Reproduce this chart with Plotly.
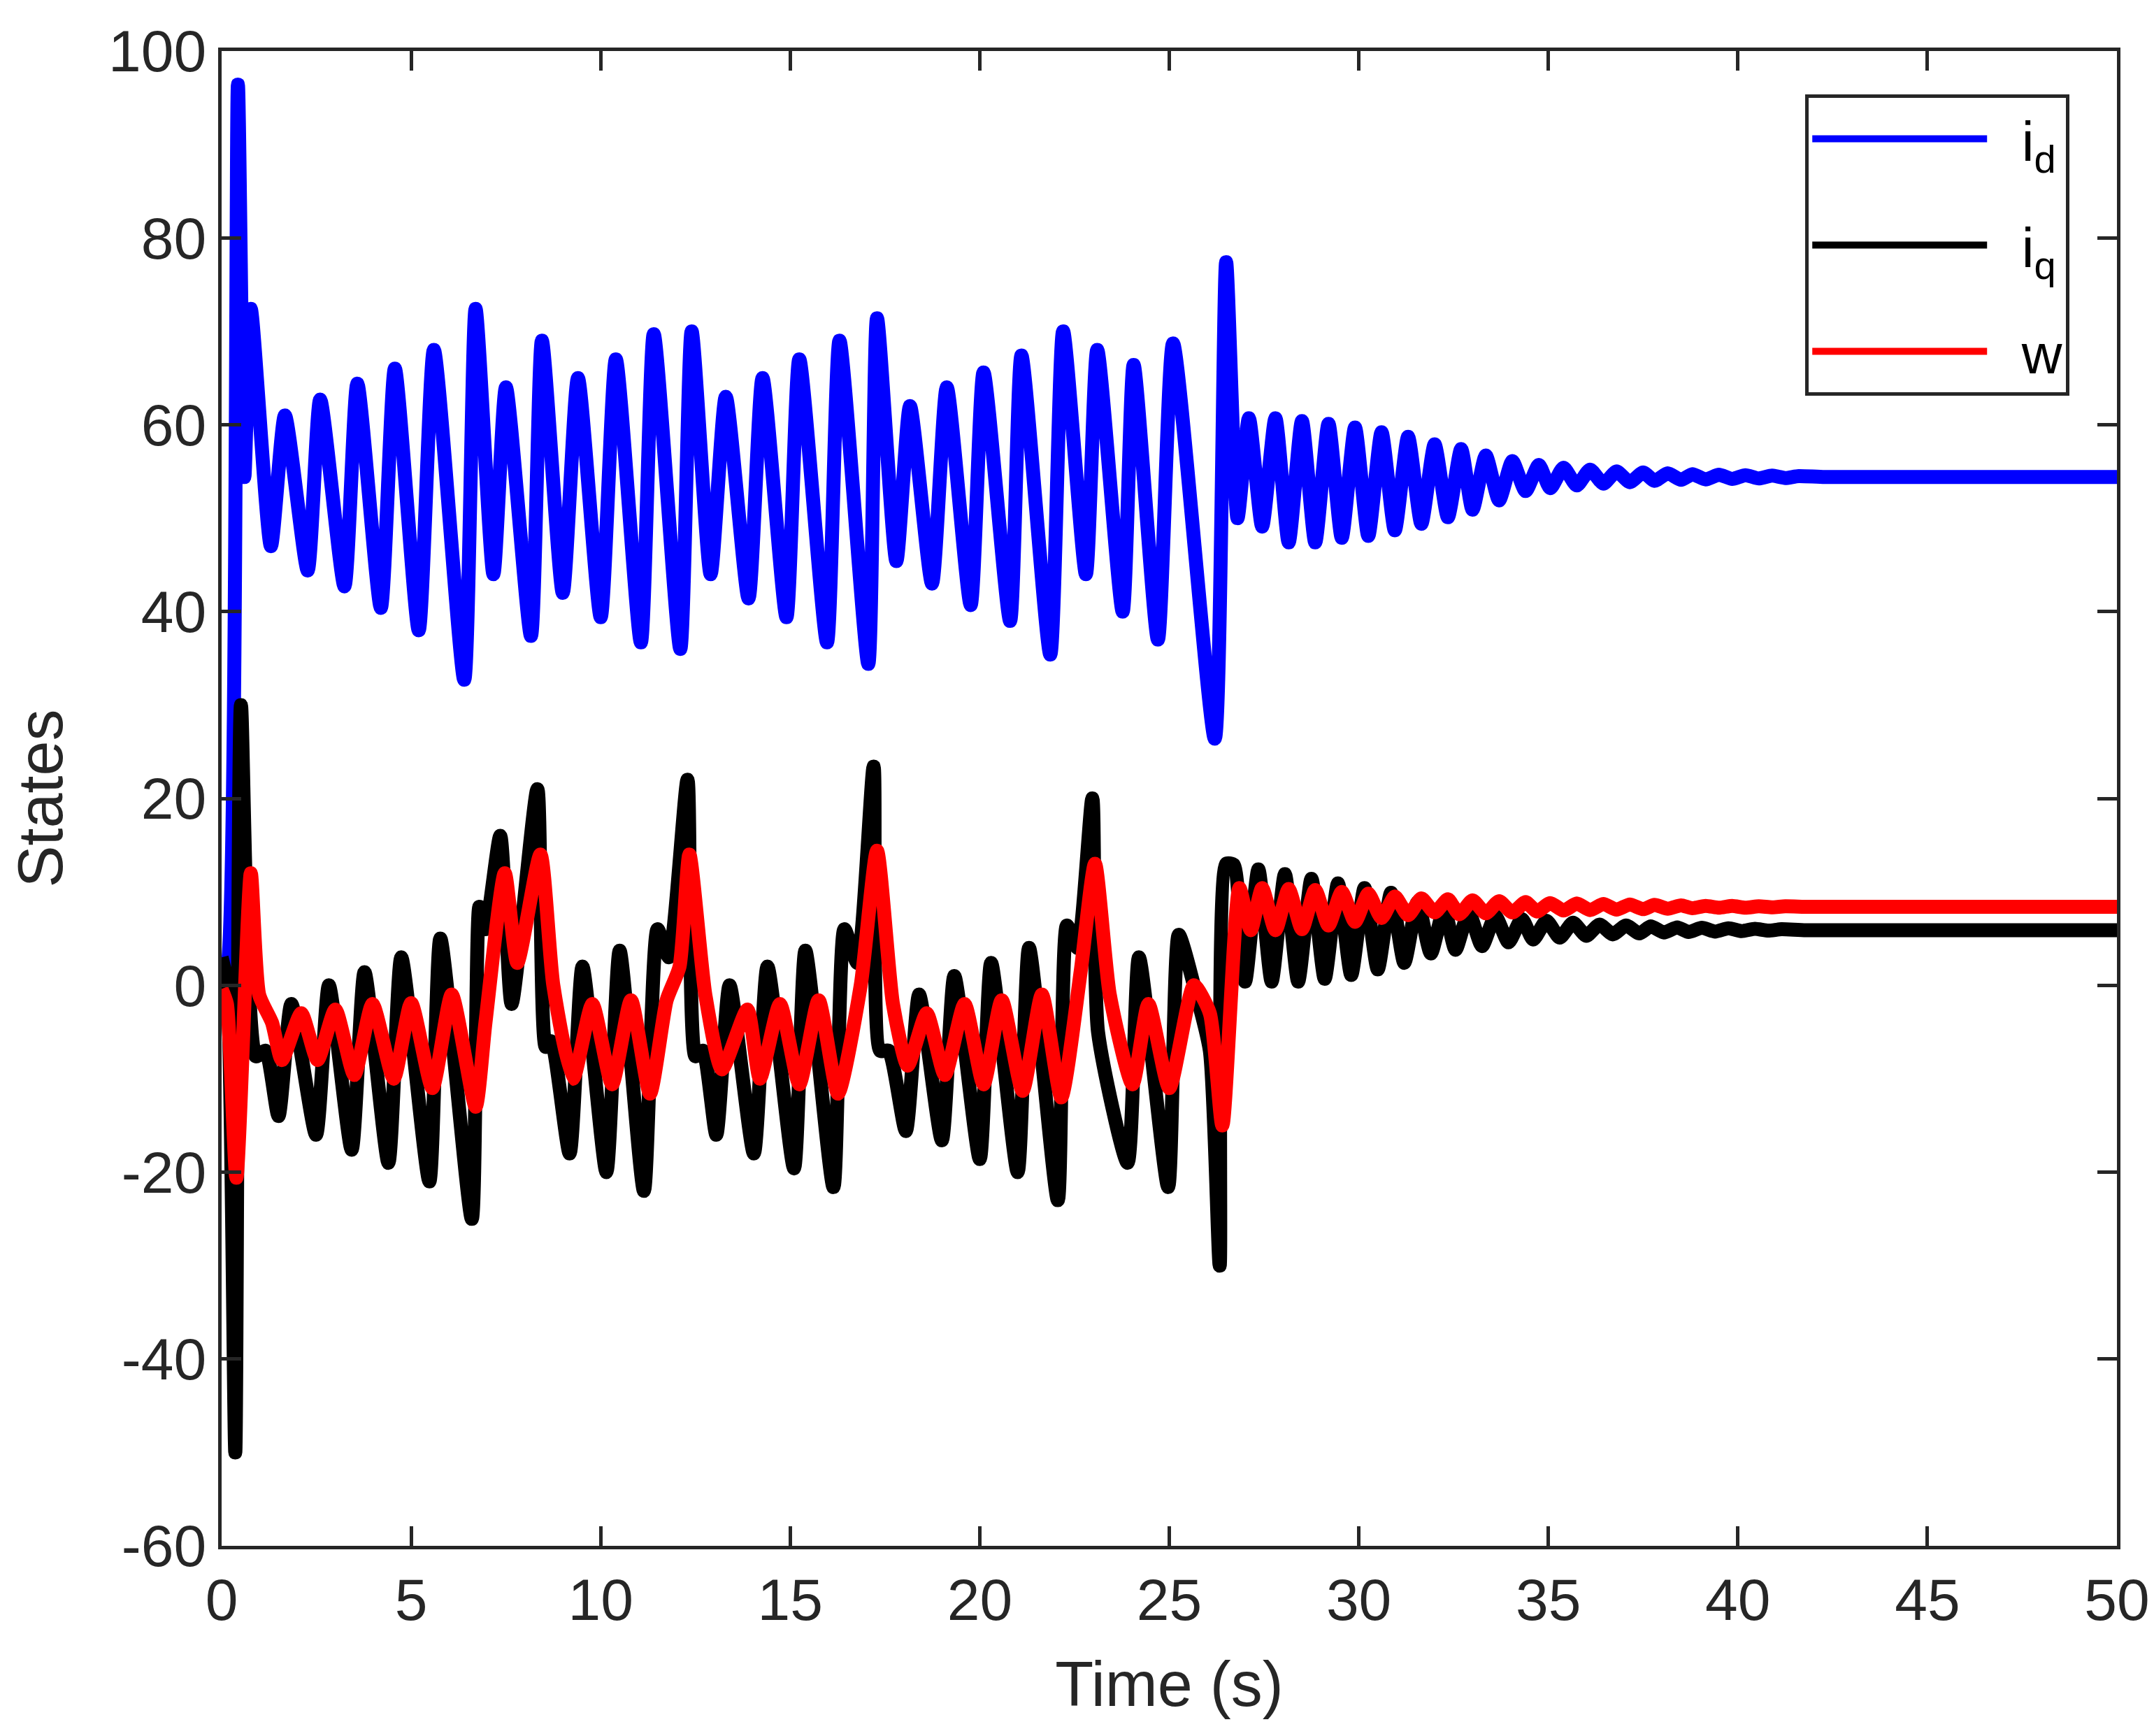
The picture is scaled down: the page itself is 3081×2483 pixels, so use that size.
import plotly.graph_objects as go

# i_d before the step at ~26.5 s (time, value)
t_id_a = [0,0.15,0.43,0.6,0.77,1.3,1.67,2.27,2.6,3.24,3.58,4.2,4.57,5.2,5.6,6.4,6.7,7.17,7.5,8.16,8.45,9.0,9.4,10.0,10.4,11.06,11.4,12.1,12.4,12.9,13.3,13.9,14.27,14.9,15.24,15.97,16.3,17.06,17.29,17.8,18.16,18.74,19.13,19.76,20.1,20.8,21.1,21.86,22.2,22.8,23.1,23.77,24.06,24.7,25.1,26.2,26.5,26.8]
v_id_a = [1,2,96.4,54.4,72.4,47,61,44.4,62.7,42.7,64.4,40.4,66,38,68,32.7,72.4,44,64,37.4,69,42,65,39.4,67,36.7,69.7,36,70,44,63,41.4,65,39.4,67,36.7,69,34.4,71.4,45.4,62,43,64,40.7,65.6,39,67.4,35.4,70,44,68,40,66.4,37,68.7,26.4,77.4,50]
# i_d decaying tail: peaks and troughs
t_id_pk = [27.1,27.8,28.5,29.2,29.9,30.6,31.3,32.0,32.7,33.35,34.05,34.75,35.4,36.1,36.8,37.5,38.15,38.8,39.5,40.2,40.9,41.6]
v_id_pk = [60.7,60.7,60.4,60.1,59.7,59.2,58.7,57.9,57.4,56.7,56.1,55.7,55.4,55.2,55.0,54.9,54.8,54.7,54.65,54.6,54.55,54.5]
t_id_tr = [27.45,28.15,28.85,29.55,30.25,30.95,31.65,32.35,33.0,33.7,34.4,35.05,35.75,36.45,37.15,37.8,38.5,39.15,39.85,40.55,41.25]
v_id_tr = [49.1,47.4,47.4,47.9,48.1,48.7,49.4,50.1,50.9,51.9,52.9,53.2,53.5,53.7,53.85,54.0,54.1,54.15,54.2,54.25,54.3]
t_id_end = [42.3,50]
v_id_end = [54.4,54.4]

t_iq_a = [0,0.15,0.36,0.51,0.9,1.16,1.5,1.84,2.49,2.83,3.43,3.77,4.4,4.74,5.48,5.77,6.6,6.8,6.96,7.35,7.65,8.33,8.55,8.7,9.18,9.52,10.15,10.5,11.14,11.5,11.8,12.29,12.5,12.7,13.05,13.4,14.04,14.4,15.1,15.4,16.14,16.43,16.77,17.2,17.37,17.6,18.05,18.4,19.0,19.33,20.0,20.3,21.0,21.3,22.06,22.3,22.58,22.97,23.12,23.9,24.2,24.97,25.25,25.65,26.07,26.33,26.5]
v_iq_a = [3,0,-50,30,-7.6,-7,-14,-2,-16,0,-17.6,1.4,-19,3,-21,5,-25,8.4,6,16,-2,21,-6.6,-6,-18,2,-20,3.7,-22,6,3,22,-7.6,-7,-16,0,-18,2,-19.6,3.7,-21.6,6,2.4,23.4,-7,-7,-15.6,-1,-16.6,1,-18.6,2.4,-20,4,-23,6.4,4,20,-5,-19,3,-21.6,5.4,0,-7,-30,13]
t_iq_pk = [26.7,27.35,28.05,28.75,29.45,30.15,30.85,31.55,32.25,32.9,33.6,34.3,34.95,35.65,36.35,37.05,37.7,38.4,39.05,39.75,40.45,41.15]
v_iq_pk = [12.9,12.4,11.9,11.4,10.9,10.4,9.9,8.9,8.2,7.8,7.4,7.1,6.9,6.7,6.5,6.4,6.3,6.2,6.15,6.1,6.05,6.0]
t_iq_tr = [27.0,27.7,28.4,29.1,29.8,30.5,31.2,31.9,32.55,33.25,33.95,34.6,35.3,36.0,36.7,37.4,38.05,38.7,39.4,40.1,40.8]
v_iq_tr = [0.4,0.4,0.4,0.7,1.1,1.7,2.4,3.4,3.8,4.2,4.6,4.9,5.1,5.3,5.45,5.55,5.65,5.7,5.75,5.8,5.85]
t_iq_end = [41.8,50]
v_iq_end = [5.9,5.9]

t_w_a = [0,0.14,0.39,0.77,0.99,1.33,1.59,2.1,2.53,3.0,3.5,3.98,4.54,5.0,5.56,6.07,6.7,6.96,7.47,7.8,8.41,8.75,9.27,9.78,10.3,10.8,11.3,11.74,12.08,12.34,12.76,13.2,13.87,14.2,14.73,15.24,15.75,16.26,16.86,17.29,17.71,18.1,18.6,19.08,19.6,20.1,20.58,21.13,21.64,22.15,22.66,23.04,23.43,24.03,24.45,25.0,25.65,26.07,26.4]
v_w_a = [-0.4,-2,-20.6,12,-1,-4,-8,-3,-8,-2.6,-9.6,-2,-10,-1.9,-11,-1,-13,-4,12,2.4,14,0,-10,-2,-10.6,-1.6,-11.6,-1.6,2,14,-1,-9,-2.6,-10,-2,-10.6,-1.6,-11.6,0,14.4,-2,-8.6,-3,-9.6,-2,-10.6,-1.6,-11.3,-1,-12,1.4,13,-1,-10.6,-2,-11,0,-3,-15]
t_w_pk = [26.85,27.45,28.15,28.85,29.55,30.25,30.95,31.65,32.35,33.0,33.7,34.4,35.05,35.75,36.45,37.15,37.8,38.5,39.15,39.85,40.55,41.25]
v_w_pk = [10.4,10.4,10.3,10.2,10.0,9.8,9.5,9.3,9.2,9.1,9.0,8.9,8.8,8.75,8.7,8.65,8.6,8.55,8.5,8.5,8.45,8.45]
t_w_tr = [27.15,27.8,28.5,29.2,29.9,30.6,31.3,32.0,32.65,33.35,34.05,34.7,35.4,36.1,36.8,37.5,38.15,38.8,39.5,40.2,40.9]
v_w_tr = [5.9,5.9,6.0,6.4,6.8,7.2,7.5,7.8,7.6,7.7,7.8,7.9,8.0,8.05,8.1,8.15,8.2,8.25,8.3,8.3,8.35]
t_w_end = [41.9,50]
v_w_end = [8.4,8.4]

x_ticks = [0,5,10,15,20,25,30,35,40,45,50]
x_labels = ["0","5","10","15","20","25","30","35","40","45","50"]
y_ticks = [-60,-40,-20,0,20,40,60,80,100]
y_labels = ["-60","-40","-20","0","20","40","60","80","100"]


def build(ta, va, tp, vp, tt, vt, te, ve):
    t, v = list(ta), list(va)
    for i in range(len(tp)):
        t.append(tp[i]); v.append(vp[i])
        if i < len(tt):
            t.append(tt[i]); v.append(vt[i])
    return t + te, v + ve


series = [
    (build(t_id_a, v_id_a, t_id_pk, v_id_pk, t_id_tr, v_id_tr, t_id_end, v_id_end), "#0000ff", "i<sub>d</sub>"),
    (build(t_iq_a, v_iq_a, t_iq_pk, v_iq_pk, t_iq_tr, v_iq_tr, t_iq_end, v_iq_end), "#000000", "i<sub>q</sub>"),
    (build(t_w_a, v_w_a, t_w_pk, v_w_pk, t_w_tr, v_w_tr, t_w_end, v_w_end), "#ff0000", "w"),
]

fig = go.Figure()
for (t, v), c, n in series:
    fig.add_trace(go.Scatter(x=t, y=v, mode="lines", name="  " + n, legendgroup=n,
                             line=dict(color=c, width=20, shape="spline", smoothing=0.6)))

ax = dict(showgrid=False, zeroline=False, showline=True, mirror="ticks", linecolor="#262626",
          linewidth=5, ticks="inside", ticklen=28, tickwidth=5, tickcolor="#262626",
          tickfont=dict(size=84, color="#262626", family="Liberation Sans"))
fig.update_xaxes(range=[0, 50], tickvals=x_ticks, ticktext=x_labels,
                 title=dict(text="Time (s)", font=dict(size=90, color="#262626"), standoff=45), **ax)
fig.update_yaxes(range=[-60, 100], tickvals=y_ticks, ticktext=y_labels,
                 title=dict(text="States", font=dict(size=90, color="#262626"), standoff=40), **ax)
fig.update_layout(width=3081, height=2483, plot_bgcolor="white", paper_bgcolor="white",
                  font=dict(family="Liberation Sans"), showlegend=True,
                  margin=dict(l=309, r=61, t=65, b=280),
                  legend=dict(x=0.975, y=0.971, xanchor="right", yanchor="top", bgcolor="white",
                              bordercolor="#262626", borderwidth=5, itemwidth=250,
                              font=dict(size=80, color="black"), tracegroupgap=45))
fig.write_html("out.html")
